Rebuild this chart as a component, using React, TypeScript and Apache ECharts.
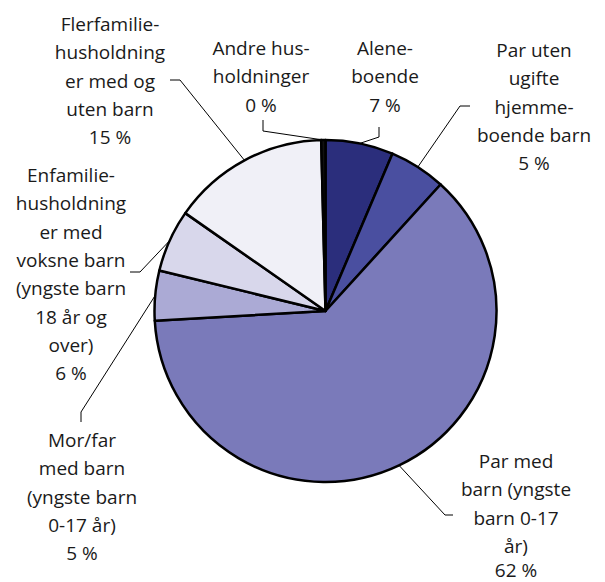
import React, { useEffect, useRef } from "react";
import * as echarts from "echarts";

// Categories in clockwise order, starting at 12 o'clock
const categories = [
  "Alene-\nboende",
  "Par uten\nugifte\nhjemme-\nboende barn",
  "Par med\nbarn (yngste\nbarn 0-17\når)",
  "Mor/far\nmed barn\n(yngste barn\n0-17 år)",
  "Enfamilie-\nhusholdning\ner med\nvoksne barn\n(yngste barn\n18 år og\nover)",
  "Flerfamilie-\nhusholdning\ner med og\nuten barn",
  "Andre hus-\nholdninger",
];
// Slice sizes (%)
const values = [6.4, 5.35, 62.35, 4.7, 5.9, 14.9, 0.4];
// Percentages printed in the labels
const shownPercent = [7, 5, 62, 5, 6, 15, 0];

const colors = ["#2b2e7c", "#4a4fa0", "#7a7aba", "#abaad5", "#d8d7eb", "#f0f0f7", "#111111"];

// Layout: label anchor (centre x, top y), leader-line elbow / end, last-line height
const labelLayoutSpec = [
  { x: 385, y: 34, elbow: [379, 137], end: [379, 127], lastLH: 28.3 },
  { x: 534, y: 36, elbow: [460, 106], end: [470, 106], lastLH: 28.3 },
  { x: 516, y: 447, elbow: [445, 515], end: [453, 515], lastLH: 20 },
  { x: 82, y: 426, elbow: [81, 412], end: [81, 422], lastLH: 28.3 },
  { x: 71, y: 161, elbow: [140, 272], end: [130, 272], lastLH: 28.3 },
  { x: 110, y: 10, elbow: [180, 80], end: [170, 80], lastLH: 28.3 },
  { x: 261, y: 34, elbow: [263, 131], end: [263, 120], lastLH: 28.3 },
];

export default function App() {
  const ref = useRef<HTMLDivElement>(null);
  useEffect(() => {
    document.body.style.margin = "0";
    const chart = echarts.init(ref.current as HTMLDivElement, null, { renderer: "svg" });
    const CX = 325.5;
    const CY = 311;
    const R = 171;
    const total = values.reduce((a, b) => a + b, 0);
    let cum = 0;
    const mids = values.map((v) => {
      const m = ((cum + v / 2) / total) * 2 * Math.PI;
      cum += v;
      return m;
    });
    const textStyle = {
      fontFamily: "Open Sans",
      fontSize: 19,
      lineHeight: 28.3,
      color: "#1a1a1a",
    };
    chart.setOption({
      animation: false,
      series: [
        {
          type: "pie",
          center: [CX, CY],
          radius: R,
          startAngle: 90,
          clockwise: true,
          avoidLabelOverlap: false,
          emphasis: { disabled: true },
          itemStyle: { borderColor: "#000", borderWidth: 2.5 },
          data: categories.map((c, i) => ({
            name: c,
            value: values[i],
            itemStyle: { color: colors[i] },
            label: {
              rich: {
                p: { ...textStyle, lineHeight: labelLayoutSpec[i].lastLH },
              },
            },
          })),
          label: {
            show: true,
            position: "outside",
            formatter: (p: any) => `${p.name}\n{p|${shownPercent[p.dataIndex]} %}`,
            ...textStyle,
            align: "center",
          },
          labelLine: {
            show: true,
            length: 10,
            length2: 10,
            lineStyle: { color: "#000", width: 1 },
          },
          labelLayout: (params: any) => {
            const i = params.dataIndex;
            const s = labelLayoutSpec[i];
            const m = mids[i];
            const edge = [CX + R * Math.sin(m), CY - R * Math.cos(m)];
            return {
              x: s.x,
              y: s.y,
              align: "center",
              verticalAlign: "top",
              labelLinePoints: [edge, s.elbow, s.end],
            };
          },
        },
      ],
    });
    return () => chart.dispose();
  }, []);
  return <div ref={ref} style={{ width: 605, height: 582 }} />;
}
